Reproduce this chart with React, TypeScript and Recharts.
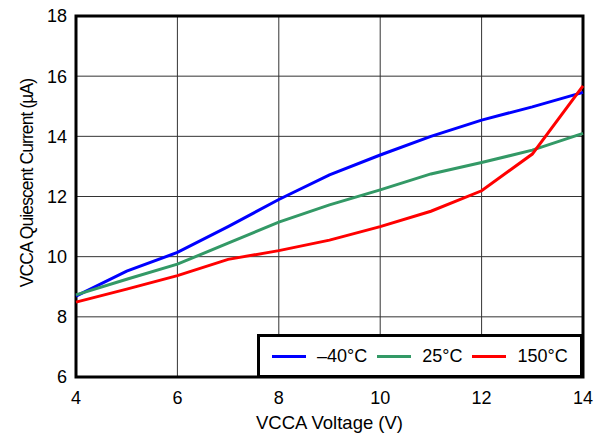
import {
  LineChart,
  Line,
  XAxis,
  YAxis,
  CartesianGrid,
  ReferenceArea,
  Legend,
  Label,
} from "recharts";

const voltage = [4, 5, 6, 7, 8, 9, 10, 11, 12, 13, 14];
const iqMinus40 = [8.69, 9.52, 10.14, 11.0, 11.9, 12.72, 13.38, 14.0, 14.54, 14.98, 15.46];
const iq25 = [8.73, 9.25, 9.75, 10.45, 11.15, 11.72, 12.22, 12.75, 13.13, 13.54, 14.1];
const iq150 = [8.49, 8.92, 9.37, 9.91, 10.2, 10.55, 11.0, 11.51, 12.19, 13.41, 15.68];

const xTicks = [4, 6, 8, 10, 12, 14];
const yTicks = [6, 8, 10, 12, 14, 16, 18];

const series = [
  { key: "m40", name: "\u201340\u00b0C", color: "#0000ff", values: iqMinus40 },
  { key: "t25", name: "25\u00b0C", color: "#339966", values: iq25 },
  { key: "t150", name: "150\u00b0C", color: "#ff0000", values: iq150 },
];

const data = voltage.map((v, i) => {
  const row: Record<string, number> = { v };
  series.forEach((s) => (row[s.key] = s.values[i]));
  return row;
});

const FONT = "'Liberation Sans', Arial, Helvetica, sans-serif";

function LegendBox() {
  return (
    <div
      style={{
        boxSizing: "border-box",
        width: 326,
        height: 44,
        border: "3px solid #000",
        background: "#fff",
        display: "flex",
        alignItems: "center",
        paddingLeft: 12,
        fontFamily: FONT,
        fontSize: 18,
        color: "#000",
      }}
    >
      {series.map((s) => (
        <div key={s.key} style={{ display: "flex", alignItems: "center", marginRight: 10 }}>
          <div style={{ width: 34, height: 3, background: s.color, marginRight: 11 }} />
          <span>{s.name}</span>
        </div>
      ))}
    </div>
  );
}

export default function App() {
  return (
    <div style={{ position: "absolute", left: 0, top: 0, width: 602, height: 435, background: "#fff" }}>
      <LineChart
        width={602}
        height={435}
        data={data}
        margin={{ top: 16, right: 19, bottom: 0, left: 0 }}
        style={{ fontFamily: FONT }}
      >
        <CartesianGrid stroke="#333" strokeWidth={1} />
        <XAxis
          dataKey="v"
          type="number"
          domain={[4, 14]}
          ticks={xTicks}
          height={58}
          tickLine={false}
          axisLine={false}
          tickMargin={8}
          tick={{ fontSize: 18, fill: "#000" }}
        >
          <Label
            value="VCCA Voltage (V)"
            position="insideBottom"
            offset={6}
            style={{ fontSize: 18.5, fill: "#000" }}
          />
        </XAxis>
        <YAxis
          type="number"
          domain={[6, 18]}
          ticks={yTicks}
          width={76}
          tickLine={false}
          axisLine={false}
          tickMargin={3}
          tick={{ fontSize: 18, fill: "#000" }}
        >
          <Label
            content={() => (
              <text
                x={27}
                y={183}
                transform="rotate(-90, 27, 183)"
                textAnchor="middle"
                dominantBaseline="central"
                style={{ fontSize: 17.5, letterSpacing: -0.9, fill: "#000" }}
              >
                VCCA Quiescent Current (µA)
              </text>
            )}
          />
        </YAxis>
        {series.map((s) => (
          <Line
            key={s.key}
            dataKey={s.key}
            name={s.name}
            stroke={s.color}
            strokeWidth={3}
            dot={false}
            type="linear"
            isAnimationActive={false}
          />
        ))}
        <ReferenceArea
          x1={4}
          x2={14}
          y1={6}
          y2={18}
          fill="none"
          fillOpacity={0}
          stroke="#000"
          strokeWidth={3}
          ifOverflow="visible"
        />
        <Legend
          layout="vertical"
          align="center"
          verticalAlign="middle"
          content={() => <LegendBox />}
          wrapperStyle={{ position: "absolute", left: 257, top: 334, width: 326, height: 44 }}
        />
      </LineChart>
    </div>
  );
}
